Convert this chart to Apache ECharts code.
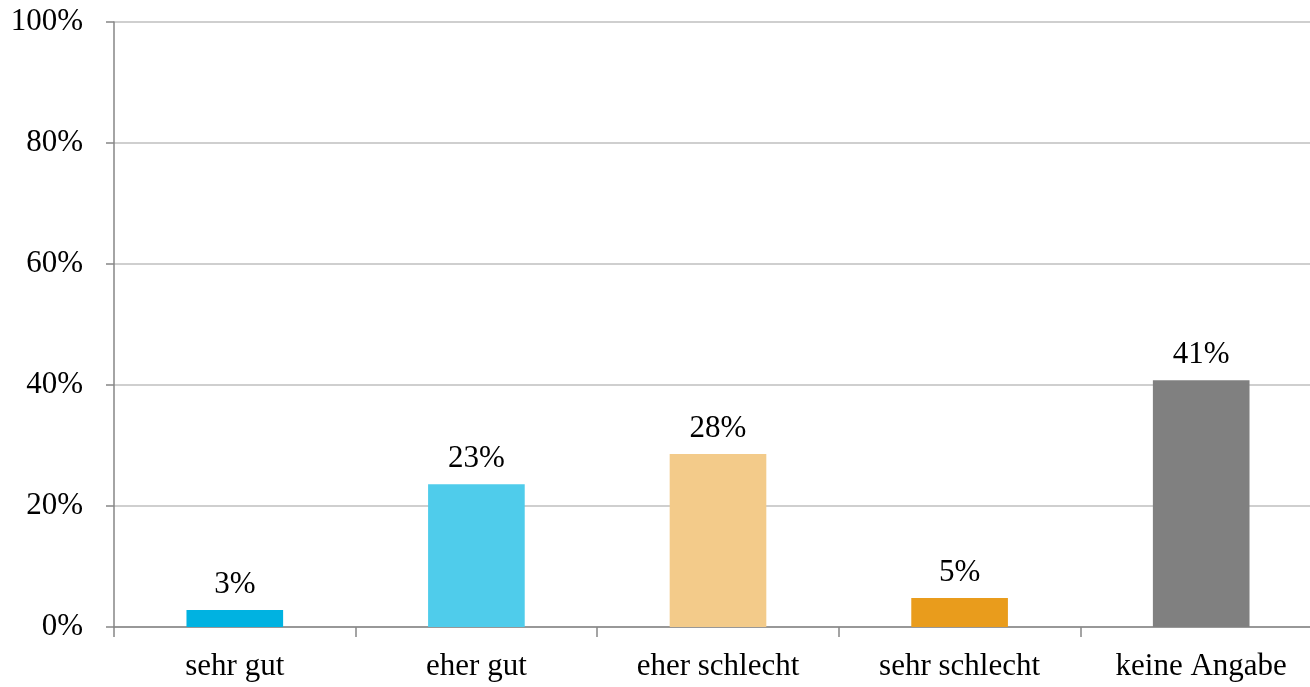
<!DOCTYPE html>
<html>
<head>
<meta charset="utf-8">
<script src="https://cdn.jsdelivr.net/npm/echarts@6/dist/echarts.min.js"></script>
<style>html,body{margin:0;padding:0;background:#fff;overflow:hidden;width:1310px;height:687px}#c{width:1322px;height:687px}</style>
</head>
<body>
<div id="c"></div>
<script>
const categories = ['sehr gut', 'eher gut', 'eher schlecht', 'sehr schlecht', 'keine Angabe'];
const values = [2.8, 23.6, 28.6, 4.8, 40.8];
const valueLabels = ['3%', '23%', '28%', '5%', '41%'];
const colors = ['#00B2E1', '#4FCCEB', '#F3CB8A', '#E99C1C', '#808080'];
const yTicks = [0, 20, 40, 60, 80, 100];

const font = "'Liberation Serif', 'DejaVu Serif', serif";
const chart = echarts.init(document.getElementById('c'));
chart.setOption({
  animation: false,
  grid: { left: 114, right: 0, top: 22, bottom: 60, containLabel: false },
  xAxis: {
    type: 'category',
    data: categories,
    axisLine: { lineStyle: { color: '#868686', width: 1.5 } },
    axisTick: { show: true, length: 10, lineStyle: { color: '#868686', width: 1.5 } },
    axisLabel: { color: '#000', fontFamily: font, fontSize: 31, margin: 24 }
  },
  yAxis: {
    type: 'value',
    min: 0, max: 100, interval: 20,
    axisLine: { show: true, lineStyle: { color: '#868686', width: 1.5 } },
    axisTick: { show: true, length: 8, lineStyle: { color: '#868686', width: 1.5 } },
    splitLine: { lineStyle: { color: '#BFBFBF', width: 1.5 } },
    axisLabel: { color: '#000', fontFamily: font, fontSize: 31, margin: 31,
      formatter: v => yTicks.includes(v) ? v + '%' : '' }
  },
  series: [{
    type: 'bar',
    barWidth: '40%',
    data: values.map((v, i) => ({ value: v, itemStyle: { color: colors[i] } })),
    label: {
      show: true, position: 'top', distance: 10,
      color: '#000', fontFamily: font, fontSize: 31,
      formatter: p => valueLabels[p.dataIndex]
    }
  }]
});
</script>
</body>
</html>
